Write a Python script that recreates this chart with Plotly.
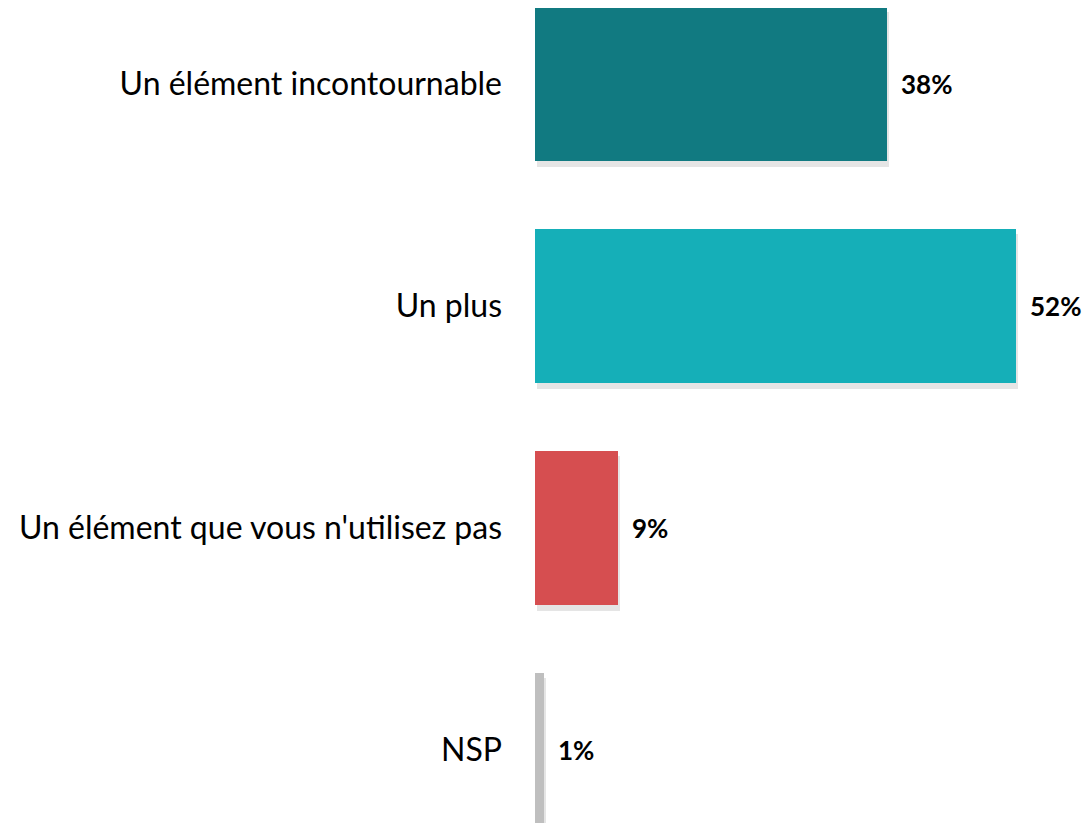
import plotly.graph_objects as go

categories = ["Un élément incontournable", "Un plus", "Un élément que vous n'utilisez pas", "NSP"]
values = [38, 52, 9, 1]
value_labels = ["38%", "52%", "9%", "1%"]
colors = ["#117A81", "#15AFB8", "#D64E50", "#BFBFBF"]

pos = list(range(len(categories)))

fig = go.Figure()
# subtle shadow
fig.add_trace(go.Bar(
    x=values, y=[p + 0.025 for p in pos], base=0.2, orientation="h", width=0.694,
    marker=dict(color="rgba(0,0,0,0.10)", line=dict(width=0)), hoverinfo="skip", showlegend=False,
))
fig.add_trace(go.Bar(
    x=values, y=pos, orientation="h", width=0.694,
    marker=dict(color=colors, line=dict(width=0)), showlegend=False,
))
for p, v, t in zip(pos, values, value_labels):
    fig.add_annotation(x=v, y=p, text="<b>%s</b>" % t, showarrow=False, xanchor="left",
                       xshift=12, font=dict(family="Lato", size=26, color="#000000"))

fig.update_layout(
    width=1074, height=815, margin=dict(l=527, r=10, t=0, b=0),
    paper_bgcolor="white", plot_bgcolor="white", bargap=0, barmode="overlay",
    font=dict(family="Lato", size=32, color="#000000"),
    xaxis=dict(range=[0, 58], visible=False),
    yaxis=dict(range=[3.329, -0.342], tickvals=pos, ticktext=categories, showgrid=False,
               zeroline=False, showline=False, ticks="", ticklabelstandoff=32,
               tickfont=dict(family="Lato", size=32, color="#000000")),
)
fig.write_html("out.html")
